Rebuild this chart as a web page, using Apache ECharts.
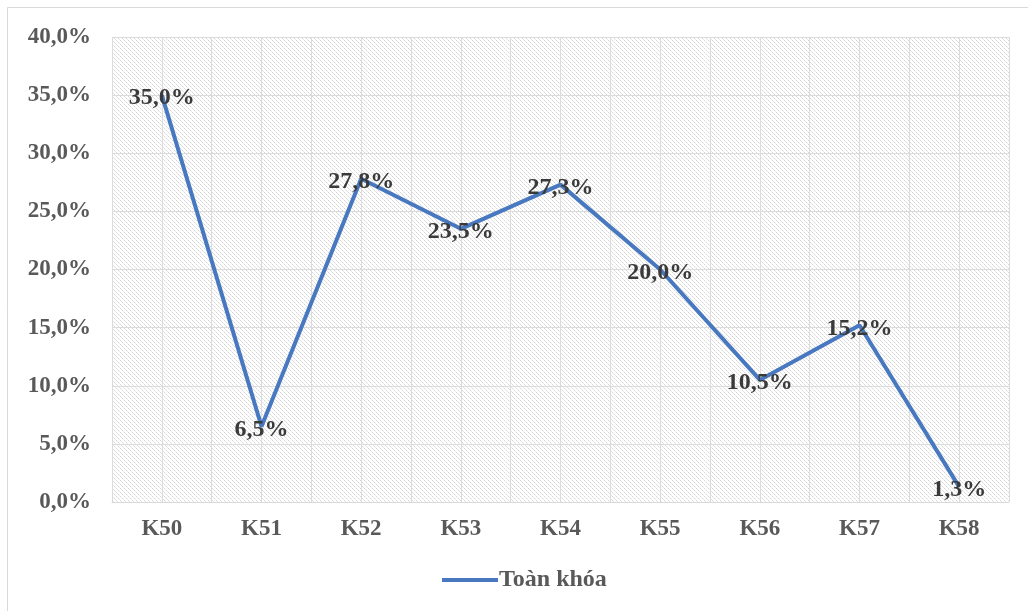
<!DOCTYPE html>
<html>
<head>
<meta charset="utf-8">
<script src="https://cdn.jsdelivr.net/npm/echarts@6/dist/echarts.min.js"></script>
<style>
  html, body { margin: 0; padding: 0; background: #ffffff; }
  #chart { width: 1028px; height: 611px; }
</style>
</head>
<body>
<div id="chart"></div>
<script>
// Cohorts and their rates (percent)
const categories = ['K50', 'K51', 'K52', 'K53', 'K54', 'K55', 'K56', 'K57', 'K58'];
const values = [35.0, 6.5, 27.8, 23.5, 27.3, 20.0, 10.5, 15.2, 1.3];
const seriesName = 'Toàn khóa';

const lineColor = '#4878c0';

// Downward diagonal hatch used to fill the plot area
function hatchPattern() {
  const c = document.createElement('canvas');
  c.width = 8; c.height = 8;
  const ctx = c.getContext('2d');
  ctx.fillStyle = '#ffffff';
  ctx.fillRect(0, 0, 8, 8);
  for (let y = 0; y < 8; y++) {
    for (let x = 0; x < 8; x++) {
      if (((x - y) % 4 + 4) % 4 === 0) {
        ctx.fillStyle = (y % 2 === 0) ? '#d6d6d6' : '#e6e6e6';
        ctx.fillRect(x, y, 1, 1);
      }
    }
  }
  return { image: c, repeat: 'repeat' };
}

const fmt = v => v.toFixed(1).replace('.', ',') + '%';
const font = '"Liberation Serif", "Times New Roman", serif';

const chart = echarts.init(document.getElementById('chart'));
chart.setOption({
  animation: false,
  backgroundColor: '#ffffff',
  graphic: [{
    type: 'rect', z: -10,
    shape: { x: 7.5, y: 7.5, width: 1040, height: 640 },
    style: { fill: 'none', stroke: '#d9d9d9', lineWidth: 1 }
  }],
  grid: {
    left: 112, right: 19, top: 37, bottom: 109,
    show: true,
    backgroundColor: hatchPattern(),
    borderWidth: 0
  },
  legend: {
    bottom: 14,
    left: 437,
    data: [seriesName],
    icon: 'path://M0,0 L1,0 L1,0.07 L0,0.07 Z',
    itemWidth: 56, itemHeight: 4, itemGap: 4,
    textStyle: { fontFamily: font, fontSize: 24, fontWeight: 'bold', color: '#595959', padding: [0, 0, 0, -4] }
  },
  xAxis: [{
    type: 'category',
    data: categories,
    boundaryGap: true,
    axisLine: { show: true, lineStyle: { color: '#d9d9d9', width: 1 } },
    axisTick: { show: false },
    splitLine: { show: false },
    axisLabel: { fontFamily: font, fontSize: 23, fontWeight: 'bold', color: '#595959', margin: 16 }
  }, {
    // half-category grid lines
    type: 'value', position: 'bottom',
    min: 0, max: categories.length * 2, interval: 1,
    axisLine: { show: false }, axisTick: { show: false }, axisLabel: { show: false },
    splitLine: { show: true, lineStyle: { color: '#dcdcdc', width: 1 } }
  }],
  yAxis: {
    type: 'value',
    min: 0, max: 40, interval: 5,
    axisLine: { show: false },
    axisTick: { show: false },
    splitLine: { show: true, lineStyle: { color: '#dcdcdc', width: 1 } },
    axisLabel: { formatter: fmt, fontFamily: font, fontSize: 23, fontWeight: 'bold', color: '#595959', margin: 21 }
  },
  series: [{
    name: seriesName,
    type: 'line',
    xAxisIndex: 0,
    data: values,
    symbol: 'circle',
    symbolSize: 0,
    showSymbol: true,
    lineStyle: { color: lineColor, width: 4 },
    itemStyle: { color: lineColor },
    label: {
      show: true,
      position: 'inside',
      offset: [0, 3],
      formatter: p => fmt(p.value),
      fontFamily: font, fontSize: 24, fontWeight: 'bold', color: '#3a3a3a'
    }
  }]
});
</script>
</body>
</html>
